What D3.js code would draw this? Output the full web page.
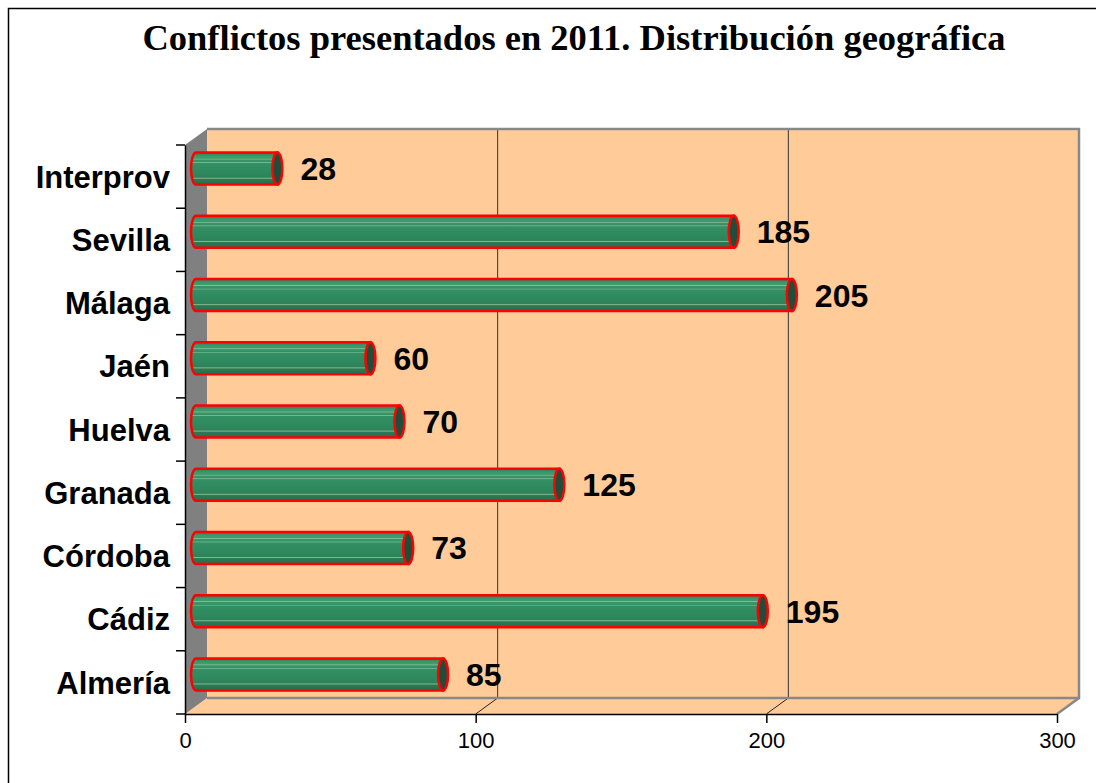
<!DOCTYPE html>
<html>
<head>
<meta charset="utf-8">
<script src="https://cdn.jsdelivr.net/npm/d3@7"></script>
<style>
  body { margin: 0; background: #fff; overflow: hidden; }
  svg { display: block; }
</style>
</head>
<body>
<div id="chart"></div>
<script>
// data
var categories = ["Interprov", "Sevilla", "Málaga", "Jaén", "Huelva", "Granada", "Córdoba", "Cádiz", "Almería"]
var values = [28, 185, 205, 60, 70, 125, 73, 195, 85]
var xTicks = [0, 100, 200, 300]
var title = "Conflictos presentados en 2011. Distribución geográfica"

// display constants
var width = 1096
var height = 783
var depthX = 22
var depthY = -16
var plotLeft = 185, plotRight = 1057
var plotTop = 145, plotBottom = 714
var barThick = 32
var capRx = 5
var labelFont = "'Liberation Sans', Arial, sans-serif"

var svg = d3.select("#chart").append("svg")
  .attr("width", width)
  .attr("height", height)

// outer frame (only top/left edges are in view)
svg.append("path")
  .attr("d", "M8.5," + height + "L8.5,8.5L" + width + ",8.5")
  .attr("fill", "none").attr("stroke", "black").attr("stroke-width", 1.5)

var xScale = d3.scaleLinear().domain([0, 300]).range([plotLeft, plotRight])
var yScale = d3.scaleBand().domain(categories).range([plotTop, plotBottom])

var defs = svg.append("defs")
var grad = defs.append("linearGradient")
  .attr("id", "cyl").attr("x1", 0).attr("y1", 0).attr("x2", 0).attr("y2", 1)
var gstops = [
  [0, "#2f7a56"], [0.12, "#3d9a6c"], [0.18, "#3f9c6e"], [0.2, "#86bf96"], [0.23, "#3a9469"],
  [0.29, "#379066"], [0.31, "#7ab88e"], [0.34, "#339064"], [0.6, "#2e8a5e"],
  [0.77, "#2e8259"], [0.8, "#8ab890"], [0.83, "#2d7a55"], [1, "#2a6a4b"]
]
gstops.forEach(function(s) {
  grad.append("stop").attr("offset", s[0]).attr("stop-color", s[1])
})

// back wall
var bx0 = plotLeft + depthX, bx1 = plotRight + depthX
var by0 = plotTop + depthY, by1 = plotBottom + depthY
svg.append("rect")
  .attr("x", bx0).attr("y", by0)
  .attr("width", bx1 - bx0).attr("height", by1 - by0)
  .attr("fill", "#ffcc99")

// floor
svg.append("path")
  .attr("d", "M" + plotLeft + "," + plotBottom + "L" + bx0 + "," + by1 + "L" + bx1 + "," + by1 +
    "L" + plotRight + "," + plotBottom + "Z")
  .attr("fill", "#ffcc99")

// side wall
svg.append("path")
  .attr("d", "M" + plotLeft + "," + plotTop + "L" + bx0 + "," + by0 + "L" + bx0 + "," + by1 +
    "L" + plotLeft + "," + plotBottom + "Z")
  .attr("fill", "#808080")

// gridlines on back wall + floor diagonals
xTicks.slice(1, 3).forEach(function(t) {
  svg.append("line")
    .attr("x1", xScale(t) + depthX).attr("x2", xScale(t) + depthX)
    .attr("y1", by0).attr("y2", by1)
    .attr("stroke", "#333").attr("stroke-width", 1)
})
xTicks.slice(1).forEach(function(t) {
  svg.append("line")
    .attr("x1", xScale(t)).attr("y1", plotBottom)
    .attr("x2", xScale(t) + depthX).attr("y2", by1)
    .attr("stroke", t === 300 ? "#888" : "#222").attr("stroke-width", t === 300 ? 2.5 : 1)
})

// wall edges (gray)
svg.append("path")
  .attr("d", "M" + bx0 + "," + by0 + "L" + bx1 + "," + by0 + "L" + bx1 + "," + by1 + "L" + bx0 + "," + by1)
  .attr("fill", "none").attr("stroke", "#888").attr("stroke-width", 2.5)

// bars (cylinders)
var bars = svg.append("g").selectAll("g")
  .data(categories.map(function(c, i) { return {cat: c, value: values[i]} }))
  .join("g")

bars.each(function(d) {
  var g = d3.select(this)
  var cy = yScale(d.cat) + yScale.bandwidth() / 2 + depthY / 2
  var x0 = xScale(0) + depthX / 2
  var x1 = xScale(d.value) + depthX / 2
  var ry = barThick / 2
  var body = "M" + x0 + "," + (cy - ry) + "L" + x1 + "," + (cy - ry) +
    "L" + x1 + "," + (cy + ry) + "L" + x0 + "," + (cy + ry) +
    "A" + capRx + "," + ry + " 0 0 1 " + x0 + "," + (cy - ry) + "Z"
  g.append("path").attr("d", body)
    .attr("fill", "url(#cyl)").attr("stroke", "#ff0000").attr("stroke-width", 2.5)
  g.append("ellipse")
    .attr("cx", x1).attr("cy", cy).attr("rx", capRx).attr("ry", ry)
    .attr("fill", "#1f4d39").attr("stroke", "#ff0000").attr("stroke-width", 2.5)
  g.append("text")
    .attr("x", x1 + 23).attr("y", cy + 3)
    .attr("dominant-baseline", "middle")
    .attr("font-family", labelFont)
    .attr("font-weight", "bold").attr("font-size", 32)
    .text(d.value)
})

// left axis
var yAxis = d3.axisLeft(yScale).tickSize(0).tickPadding(15)
var ya = svg.append("g").attr("transform", "translate(" + plotLeft + ",0)").call(yAxis)
ya.select(".domain").attr("stroke", "black").attr("stroke-width", 1.5)
ya.selectAll(".tick text")
  .attr("font-family", labelFont)
  .attr("font-weight", "bold").attr("font-size", 31).attr("fill", "black")
  .attr("dy", "0.36em")
// category boundary ticks
var bounds = categories.map(function(c) { return yScale(c) }).concat([plotBottom])
svg.selectAll(".ytick").data(bounds).join("line")
  .attr("x1", plotLeft - 9).attr("x2", plotLeft)
  .attr("y1", function(d) { return d }).attr("y2", function(d) { return d })
  .attr("stroke", "black").attr("stroke-width", 1.5)

// bottom axis
var xAxis = d3.axisBottom(xScale).tickValues(xTicks).tickSizeInner(9).tickSizeOuter(0).tickPadding(9)
var xa = svg.append("g").attr("transform", "translate(0," + plotBottom + ")").call(xAxis)
xa.select(".domain").attr("stroke", "black").attr("stroke-width", 1.5)
xa.selectAll(".tick line").attr("stroke", "black").attr("stroke-width", 1.5)
xa.selectAll(".tick text")
  .attr("font-family", labelFont)
  .attr("font-size", 22).attr("fill", "black")

// title
svg.append("text")
  .attr("x", 574).attr("y", 50)
  .attr("text-anchor", "middle")
  .attr("font-family", "'Liberation Serif', 'Times New Roman', serif")
  .attr("font-weight", "bold").attr("font-size", 36.5)
  .text(title)
</script>
</body>
</html>
